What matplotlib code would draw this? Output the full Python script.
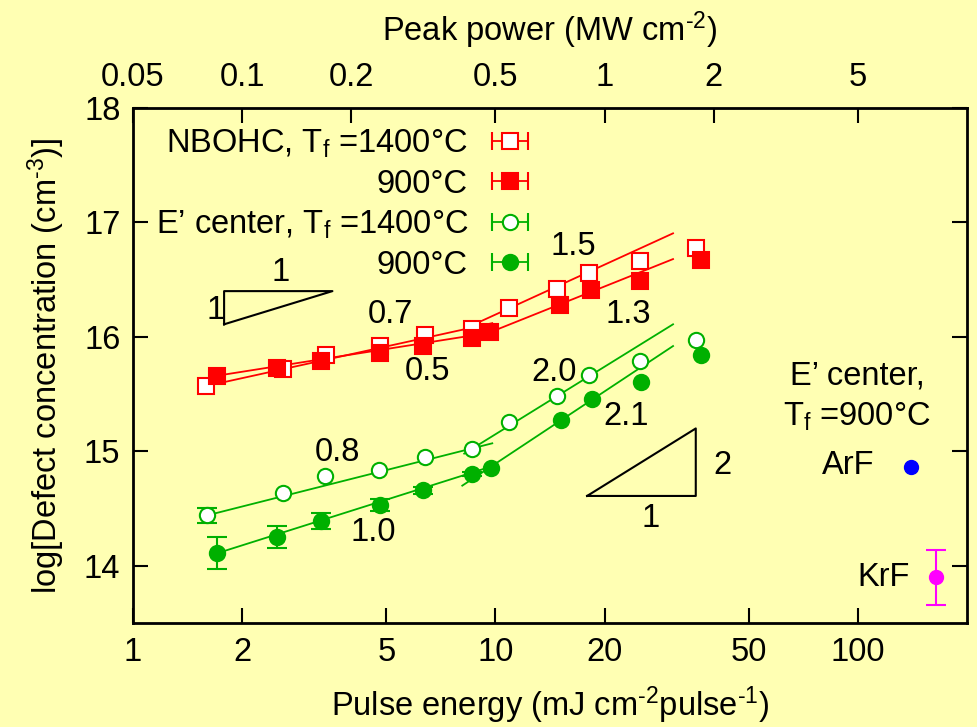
import matplotlib
matplotlib.use('Agg')
import matplotlib.pyplot as plt
from matplotlib.lines import Line2D
from matplotlib.legend_handler import HandlerLine2D, HandlerTuple
from matplotlib.ticker import NullLocator

# pulse energy (mJ cm-2 pulse-1) and log10 of defect concentration
e_nbohc_1400 = [1.59, 2.60, 3.41, 4.81, 6.41, 8.60, 10.9, 14.8, 18.1, 25.0, 35.8]
v_nbohc_1400 = [15.57, 15.72, 15.84, 15.92, 16.02, 16.07, 16.25, 16.42, 16.56, 16.66, 16.78]
e_nbohc_900 = [1.70, 2.50, 3.30, 4.80, 6.30, 8.60, 9.69, 15.1, 18.4, 25.1, 36.8]
v_nbohc_900 = [15.66, 15.73, 15.79, 15.86, 15.92, 15.99, 16.04, 16.28, 16.41, 16.49, 16.67]
e_ecen_1400 = [1.60, 2.60, 3.39, 4.78, 6.41, 8.63, 10.9, 14.8, 18.1, 25.0, 35.8]
v_ecen_1400 = [14.44, 14.64, 14.78, 14.84, 14.95, 15.02, 15.26, 15.48, 15.67, 15.79, 15.97]
err_ecen_1400 = [0.065, 0, 0, 0, 0, 0, 0, 0, 0, 0, 0]
e_ecen_900 = [1.70, 2.50, 3.31, 4.80, 6.33, 8.63, 9.70, 15.2, 18.5, 25.2, 36.9]
v_ecen_900 = [14.11, 14.25, 14.39, 14.53, 14.66, 14.80, 14.85, 15.27, 15.46, 15.61, 15.84]
err_ecen_900 = [0.14, 0.096, 0.07, 0.05, 0.03, 0.02, 0, 0, 0, 0, 0]

# fit segments: (E start, E end, value start, value end)
fit_nbohc_1400 = [(1.59, 9.8, 15.57, 16.12), (8.2, 30.9, 16.07, 16.905)]
fit_nbohc_900 = [(1.70, 9.8, 15.66, 16.04), (8.2, 30.9, 15.95, 16.68)]
fit_ecen_1400 = [(1.60, 9.8, 14.44, 15.07), (8.2, 30.9, 14.98, 16.11)]
fit_ecen_900 = [(1.71, 9.8, 14.11, 14.87), (8.1, 30.9, 14.70, 15.92)]

# single E' points at 900 C
e_arf, v_arf = [140], [14.86]
e_krf, v_krf, err_krf = [164], [13.9], [0.24]

# slope labels: (text, E, value)
slope_labels = [("0.7", 5.13, 16.2), ("0.5", 6.49, 15.7), ("1.5", 16.4, 16.79),
                ("1.3", 23.2, 16.2), ("0.8", 3.66, 14.99), ("1.0", 4.6, 14.29),
                ("2.0", 14.55, 15.69), ("2.1", 23.0, 15.3)]
# slope triangles: (E left, E right, value low, value high)
tri_1 = (1.784, 3.55, 16.11, 16.40)
tri_2 = (17.9, 35.7, 14.61, 15.20)

x_ticks = [1, 2, 5, 10, 20, 50, 100]
p_ticks = [0.05, 0.1, 0.2, 0.5, 1, 2, 5]
y_ticks = [14, 15, 16, 17, 18]

bg = '#ffffb3'
red = '#ff0000'
green = '#00b000'
FS = 23.5

plt.rcParams['font.family'] = ['Liberation Sans', 'DejaVu Sans']
plt.rcParams['mathtext.fontset'] = 'custom'
plt.rcParams['mathtext.rm'] = 'Liberation Sans'
plt.rcParams['mathtext.default'] = 'regular'

fig = plt.figure(figsize=(9.77, 7.27), dpi=100, facecolor=bg)
ax = fig.add_axes([0.1361, 0.1431, 0.8537, 0.7083], facecolor=bg)
ax.set_xscale('log')
ax.set_xlim(1, 200)
ax.set_ylim(13.5, 18)

# fit lines
for segs, c in [(fit_nbohc_1400, red), (fit_nbohc_900, red),
                (fit_ecen_1400, green), (fit_ecen_900, green)]:
    for e0, e1, v0, v1 in segs:
        ax.plot([e0, e1], [v0, v1], color=c, lw=1.3, zorder=2)

sq = dict(markersize=11.5, markeredgewidth=1.5, linestyle='none', zorder=3)
ci = dict(markersize=11, markeredgewidth=1.5, linestyle='none', zorder=3)
ax.plot(e_nbohc_1400, v_nbohc_1400, marker='s', mfc='white', mec=red, **sq)
ax.plot(e_nbohc_900, v_nbohc_900, marker='s', mfc=red, mec=red, **sq)
ax.plot(e_ecen_1400, v_ecen_1400, marker='o', mfc='white', mec=green, **ci)
ax.plot(e_ecen_900, v_ecen_900, marker='o', mfc=green, mec=green, **ci)

eb = dict(fmt='none', ecolor=green, elinewidth=1.5, capsize=7, capthick=1.5, zorder=2.5)
for es, vs, errs in [(e_ecen_1400, v_ecen_1400, err_ecen_1400),
                     (e_ecen_900, v_ecen_900, err_ecen_900)]:
    keep = [i for i, er in enumerate(errs) if er > 0]
    ax.errorbar([es[i] for i in keep], [vs[i] for i in keep],
                yerr=[errs[i] for i in keep], **eb)

ax.plot(e_arf, v_arf, 'o', color='#0000ff', markersize=10, zorder=3)
ax.errorbar(e_krf, v_krf, yerr=err_krf, fmt='o', color='#ff00ff', markersize=10,
            elinewidth=1.5, capsize=7, capthick=1.5, zorder=3)

# slope triangles
for el, er, vl, vh in [tri_1]:
    ax.plot([el, er, el, el], [vl, vh, vh, vl], color='black', lw=1.5)
for el, er, vl, vh in [tri_2]:
    ax.plot([el, er, er, el], [vl, vl, vh, vl], color='black', lw=1.5)
ax.text(2.55, 16.43, "1", fontsize=FS, ha='center', va='bottom')
ax.text(1.79, 16.23, "1", fontsize=FS, ha='right', va='center')
ax.text(40, 14.88, "2", fontsize=FS, ha='left', va='center')
ax.text(26.8, 14.41, "1", fontsize=FS, ha='center', va='center')

for txt, e, v in slope_labels:
    ax.text(e, v, txt, fontsize=FS, ha='center', va='center')

ax.text(99.4, 15.66, "E\u2019 center,", fontsize=FS, ha='center', va='center')
ax.text(99.4, 15.3, "T$_f$ =900\u00b0C", fontsize=FS, ha='center', va='center')
ax.text(111, 14.88, "ArF", fontsize=FS, ha='right', va='center')
ax.text(139, 13.9, "KrF", fontsize=FS, ha='right', va='center')

# legend with horizontal error-bar symbols
labels = ["NBOHC, T$_f$ =1400\u00b0C", "900\u00b0C", "E\u2019 center, T$_f$ =1400\u00b0C", "900\u00b0C"]
styles = [(red, 's', 'white', 11.5), (red, 's', red, 11.5),
          (green, 'o', 'white', 11), (green, 'o', green, 11)]
handles = []
hmap = {tuple: HandlerTuple(ndivide=1)}
for c, m, fc, ms in styles:
    caps = Line2D([], [], color=c, marker='|', markersize=13, markeredgewidth=1.5, lw=1.3)
    core = Line2D([], [], color=c, marker=m, mfc=fc, mec=c, markersize=ms,
                  markeredgewidth=1.5, linestyle='none')
    hmap[caps] = HandlerLine2D(numpoints=2, marker_pad=0)
    handles.append((caps, core))
ax.legend(handles, labels, handler_map=hmap, markerfirst=False, frameon=False,
          loc='upper right', bbox_to_anchor=(0.474, 0.962), fontsize=FS,
          handlelength=1.1, handletextpad=0.75, labelspacing=0.27,
          borderpad=0, borderaxespad=0)

ax.set_xticks(x_ticks)
ax.set_xticklabels([str(t) for t in x_ticks])
ax.xaxis.set_minor_locator(NullLocator())
ax.set_yticks(y_ticks)
ax.tick_params(axis='both', which='major', direction='in', length=11, width=1.5,
               labelsize=FS, right=True, top=False)
ax.tick_params(axis='x', pad=10)
ax.tick_params(axis='y', pad=9)
for s in ax.spines.values():
    s.set_linewidth(2)

ax.set_xlabel("Pulse energy (mJ cm$^{\u20102}$pulse$^{\u20101}$)", fontsize=FS, labelpad=12)
ax.set_ylabel("log[Defect concentration (cm$^{\u20103}$)]", fontsize=FS, labelpad=12.5)

sec = ax.secondary_xaxis('top', functions=(lambda e: e * 0.05, lambda p: p / 0.05))
sec.set_xticks(p_ticks)
sec.set_xticklabels([str(t) for t in p_ticks])
sec.xaxis.set_minor_locator(NullLocator())
sec.tick_params(direction='in', length=11, width=1.5, labelsize=FS, pad=11)
sec.set_xlabel("Peak power (MW cm$^{\u20102}$)", fontsize=FS, labelpad=15)

fig.savefig('out.png', dpi=100, facecolor=bg)
